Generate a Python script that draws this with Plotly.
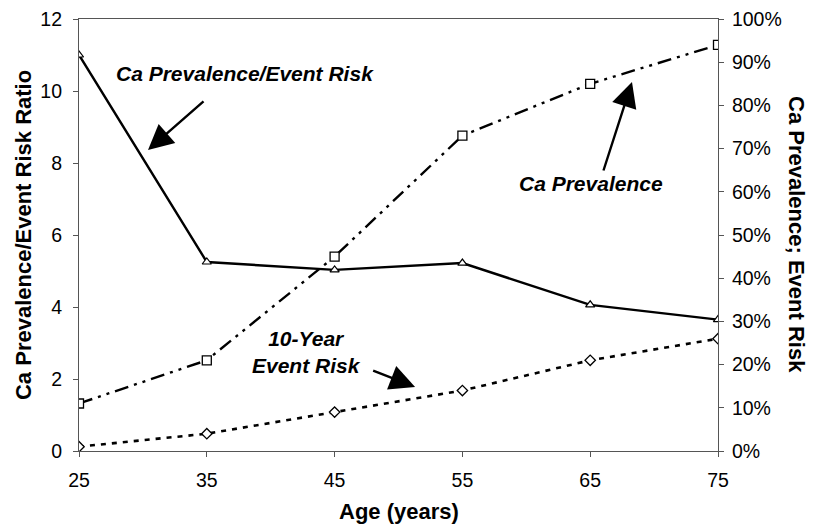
import plotly.graph_objects as go

ages = [25, 35, 45, 55, 65, 75]
ratio = [11.0, 5.25, 5.03, 5.22, 4.06, 3.65]
ca_prevalence = [0.11, 0.21, 0.45, 0.73, 0.85, 0.94]
event_risk = [0.01, 0.04, 0.09, 0.14, 0.21, 0.26]

left_ticks = [0, 2, 4, 6, 8, 10, 12]
right_ticks = [i / 10 for i in range(11)]

FONT = "Liberation Sans, Arial, sans-serif"
AX = "#555555"
TICK_FONT = dict(family=FONT, size=19.5, color="black")
TITLE_FONT = dict(family=FONT, size=22, color="black")

fig = go.Figure()

fig.add_trace(go.Scatter(
    x=ages, y=ratio, mode="lines+markers", name="Ca Prevalence/Event Risk",
    line=dict(color="black", width=2.4),
    marker=dict(symbol="triangle-up", size=8, color="white", line=dict(width=1.2, color="black")),
    yaxis="y"))

fig.add_trace(go.Scatter(
    x=ages, y=ca_prevalence, mode="lines+markers", name="Ca Prevalence",
    line=dict(color="black", width=2.4, dash="14px,6px,3px,6px,3px,6px"),
    marker=dict(symbol="square", size=9, color="white", line=dict(width=1.3, color="black")),
    yaxis="y2"))

fig.add_trace(go.Scatter(
    x=ages, y=event_risk, mode="lines+markers", name="10-Year Event Risk",
    line=dict(color="black", width=2.6, dash="5px,6px"),
    marker=dict(symbol="diamond", size=8, color="white", line=dict(width=1.3, color="black")),
    yaxis="y2"))

ann_font = dict(family=FONT, size=21, color="black")

annotations = [
    dict(x=38.0, y=10.5, xref="x", yref="y", showarrow=False,
         text="<b><i>Ca Prevalence/Event Risk</i></b>", font=ann_font),
    dict(x=65.1, y=7.44, xref="x", yref="y", showarrow=False,
         text="<b><i>Ca Prevalence</i></b>", font=ann_font),
    dict(x=42.8, y=2.75, xref="x", yref="y", showarrow=False,
         text="<b><i>10-Year<br>Event Risk</i></b>", font=ann_font),
    # arrows
    dict(x=30.4, y=8.36, ax=34.86, ay=9.75, xref="x", yref="y", axref="x", ayref="y",
         text="", showarrow=True, arrowhead=2, arrowsize=2.1, arrowwidth=2.4, arrowcolor="black"),
    dict(x=68.27, y=10.25, ax=66.0, ay=7.75, xref="x", yref="y", axref="x", ayref="y",
         text="", showarrow=True, arrowhead=2, arrowsize=2.1, arrowwidth=2.4, arrowcolor="black"),
    dict(x=51.3, y=1.78, ax=47.9, ay=2.25, xref="x", yref="y", axref="x", ayref="y",
         text="", showarrow=True, arrowhead=2, arrowsize=2.1, arrowwidth=2.4, arrowcolor="black"),
    # axis titles
    dict(x=-0.0876, y=0.5, xref="paper", yref="paper", showarrow=False, textangle=-90,
         xanchor="center", yanchor="middle",
         text="<b>Ca Prevalence/Event Risk Ratio</b>", font=TITLE_FONT),
    dict(x=1.1236, y=0.5, xref="paper", yref="paper", showarrow=False, textangle=90,
         xanchor="center", yanchor="middle",
         text="<b>Ca Prevalence; Event Risk</b>", font=TITLE_FONT),
    dict(x=0.5, y=-0.14, xref="paper", yref="paper", showarrow=False,
         xanchor="center", yanchor="middle",
         text="<b>Age (years)</b>", font=TITLE_FONT),
]

fig.update_layout(
    width=806, height=516,
    margin=dict(l=71, r=96, t=11, b=73),
    paper_bgcolor="white", plot_bgcolor="white",
    showlegend=False,
    font=dict(family=FONT, size=19, color="black"),
    annotations=annotations,
    xaxis=dict(
        range=[25, 75], tickvals=ages, ticktext=[str(a) for a in ages],
        showgrid=False, zeroline=False, automargin=False,
        showline=True, linecolor=AX, linewidth=1.2, mirror=True,
        ticks="outside", ticklen=5, tickcolor=AX, ticklabelstandoff=6,
        tickfont=TICK_FONT, ticklabeloverflow="allow",
    ),
    yaxis=dict(
        range=[0, 12], tickvals=left_ticks, ticktext=[str(t) for t in left_ticks],
        showgrid=False, zeroline=False, automargin=False,
        showline=True, linecolor=AX, linewidth=1.2, mirror=True,
        ticks="outside", ticklen=5, tickcolor=AX, ticklabelstandoff=7,
        tickfont=TICK_FONT, ticklabeloverflow="allow",
    ),
    yaxis2=dict(
        range=[0, 1], tickvals=right_ticks, tickformat=".0%",
        overlaying="y", side="right", automargin=False,
        showgrid=False, zeroline=False, showline=False,
        ticks="outside", ticklen=5, tickcolor=AX, ticklabelstandoff=4,
        tickfont=TICK_FONT, ticklabeloverflow="allow",
    ),
)

fig.write_html("out.html")
